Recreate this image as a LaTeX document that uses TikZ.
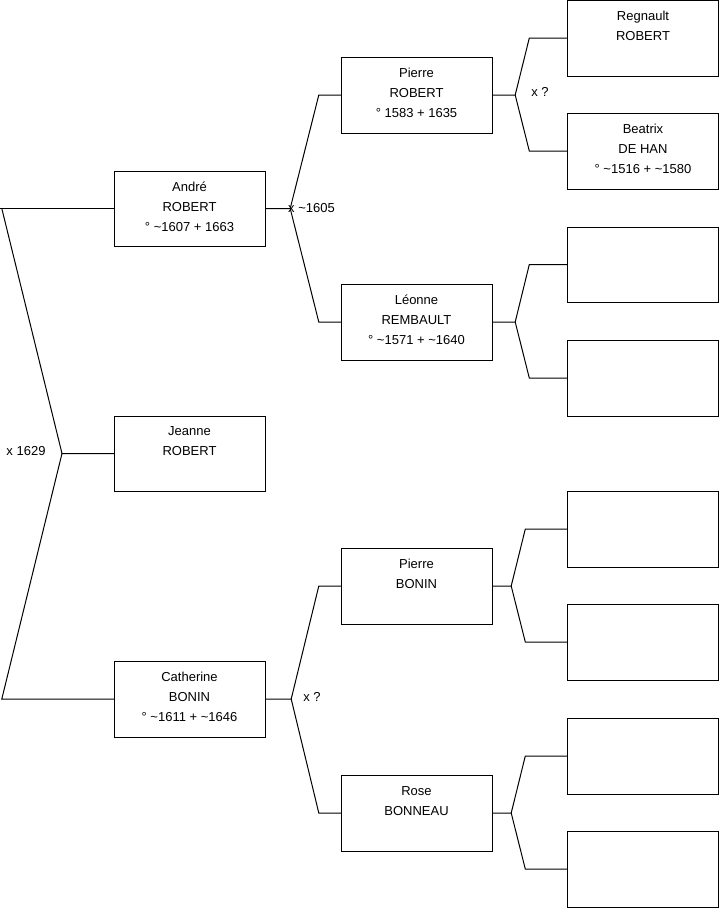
\documentclass[tikz,border=0pt]{standalone}
\usepackage{fontspec}
\setmainfont{Liberation Sans}
\usetikzlibrary{positioning}

\begin{document}
\begin{tikzpicture}[
  x=1pt, y=-1pt,
  font=\fontsize{13}{20}\selectfont,
  person/.style={draw, align=center, minimum width=151pt, minimum height=75.5pt, inner sep=0pt, text depth=4.5pt},
  link/.style={line width=1pt},
  union/.style={inner sep=0pt}]

\useasboundingbox (0,0) rectangle (719,908);

% generation 2
\node[person] (andre) at (189.5,208.5) {André\\ROBERT\\° \textasciitilde1607 + 1663};
\node[person] (jeanne) at (189.5,453.5) {Jeanne\\ROBERT\\~};
\node[person] (catherine) at (189.5,699) {Catherine\\BONIN\\° \textasciitilde1611 + \textasciitilde1646};

% generation 3
\node[person] (pierreR) at (416.5,95) {Pierre\\ROBERT\\° 1583 + 1635};
\node[person] (leonne) at (416.5,322) {Léonne\\REMBAULT\\° \textasciitilde1571 + \textasciitilde1640};
\node[person] (pierreB) at (416.5,586) {Pierre\\BONIN\\~};
\node[person] (rose) at (416.5,813) {Rose\\BONNEAU\\~};

% generation 4
\node[person] (regnault) at (643,38) {Regnault\\ROBERT\\~};
\node[person] (beatrix) at (643,151) {Beatrix\\DE HAN\\° \textasciitilde1516 + \textasciitilde1580};
\foreach \n/\y in {e1/264.5, e2/378, e3/529, e4/642, e5/756, e6/869}
  \node[person] (\n) at (643,\y) {};

% marriages
\node[union] (m1629) at (26,451) {x 1629};
\node[union, anchor=west] (m1605) at (288,208.5) {x \textasciitilde1605};
\node[union] (mcath) at (312,697) {x ?};
\node[union] (mpierre) at (540,92) {x ?};

% root fork
\coordinate (mR) at (62,453.5);
\draw[link] (andre.west) -- ++(-114,0);
\draw[link] ([xshift=-112pt]andre.west) -- (mR) -- (jeanne.west);
\draw[link] (mR) -- ([xshift=-112pt]catherine.west) -- (catherine.west);

% andre
\draw[link] (andre.east) -- ++(25,0) coordinate (mA) -- ([xshift=-22pt]pierreR.west) -- (pierreR.west);
\draw[link] (mA) -- ([xshift=-22pt]leonne.west) -- (leonne.west);

% catherine
\draw[link] (catherine.east) -- ++(26,0) coordinate (mC) -- ([xshift=-22pt]pierreB.west) -- (pierreB.west);
\draw[link] (mC) -- ([xshift=-22pt]rose.west) -- (rose.west);

% pierre robert
\draw[link] (pierreR.east) -- ++(23,0) coordinate (mP) -- ([xshift=-38pt]regnault.west) -- (regnault.west);
\draw[link] (mP) -- ([xshift=-38pt]beatrix.west) -- (beatrix.west);

% leonne
\draw[link] (leonne.east) -- ++(23,0) coordinate (mL) -- ([xshift=-38pt]e1.west) -- (e1.west);
\draw[link] (mL) -- ([xshift=-38pt]e2.west) -- (e2.west);

% pierre bonin
\draw[link] (pierreB.east) -- ++(19,0) coordinate (mB) -- ([xshift=-42pt]e3.west) -- (e3.west);
\draw[link] (mB) -- ([xshift=-42pt]e4.west) -- (e4.west);

% rose
\draw[link] (rose.east) -- ++(19,0) coordinate (mO) -- ([xshift=-42pt]e5.west) -- (e5.west);
\draw[link] (mO) -- ([xshift=-42pt]e6.west) -- (e6.west);
\end{tikzpicture}
\end{document}
